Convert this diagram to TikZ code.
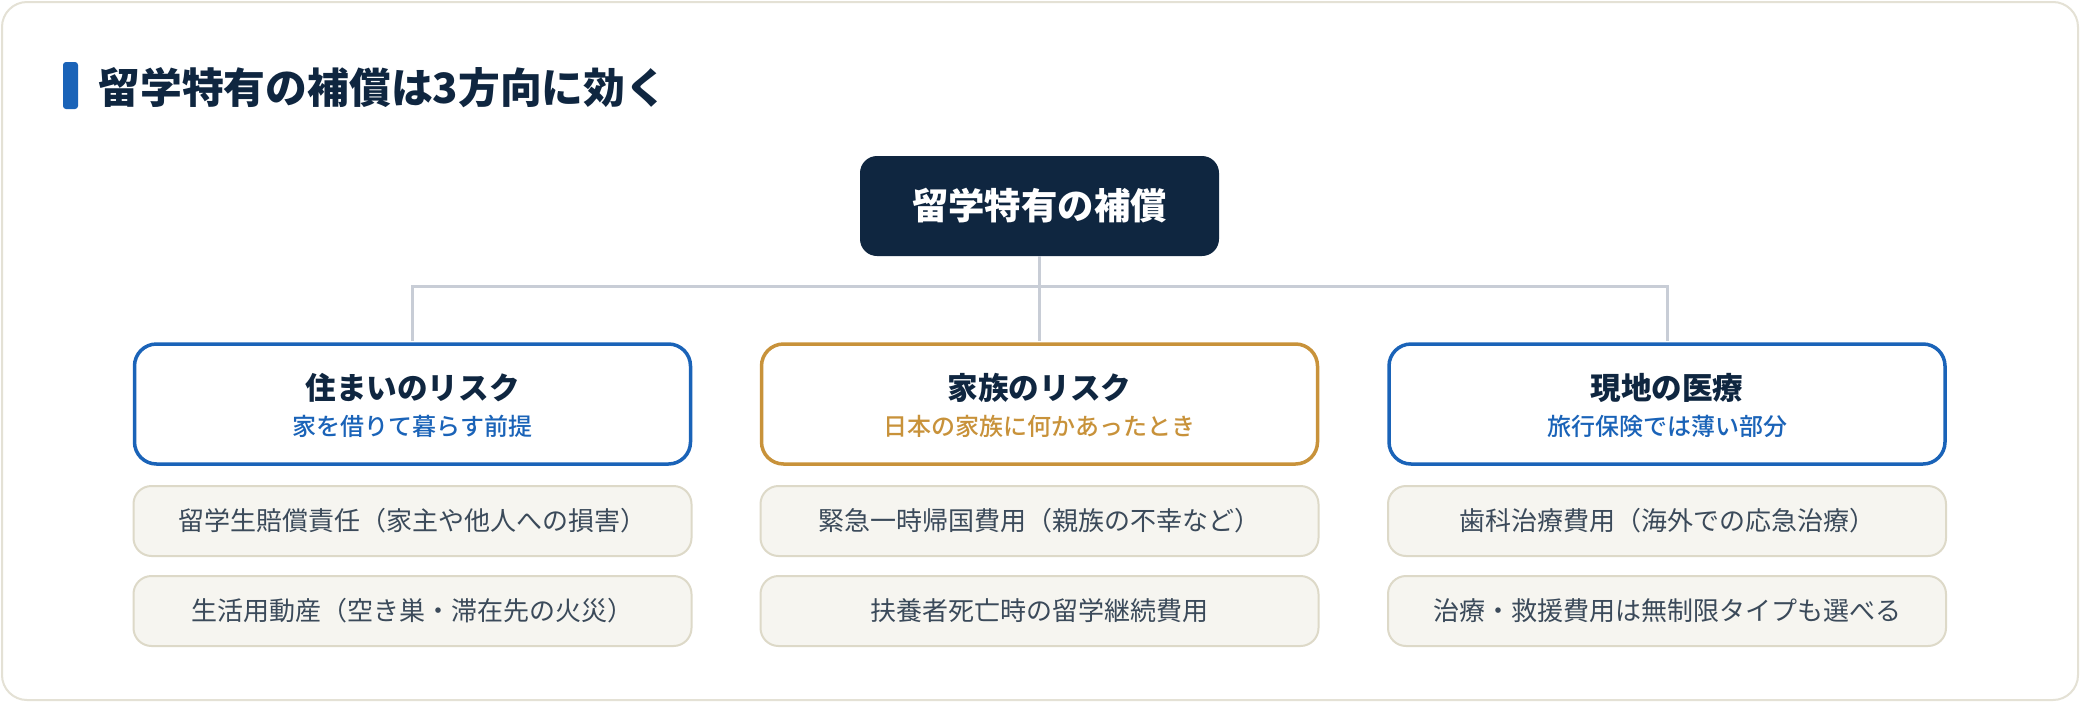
\documentclass[tikz,border=0pt]{standalone}
\usepackage{fontspec}
\setmainfont{Noto Sans CJK JP}
\newfontfamily\medfont{Noto Sans CJK JP Medium}
\usepackage{tikz}
\usetikzlibrary{positioning}
\definecolor{navy}{HTML}{0F2640}
\definecolor{riskblue}{HTML}{1A63B8}
\definecolor{riskgold}{HTML}{C8923A}
\definecolor{itemfill}{HTML}{F6F5F0}
\definecolor{itemline}{HTML}{DDD9C8}
\definecolor{itemtext}{HTML}{3B4A5A}
\definecolor{busline}{HTML}{C8CDD6}
\definecolor{frameline}{HTML}{E4E1D5}
\tikzset{
    rootbox/.style={
           rectangle,
           rounded corners=17pt,
           fill=navy,
           text=white,
           minimum width=359pt,
           minimum height=100pt,
           inner sep=0pt,
           font=\fontsize{36.4}{40}\selectfont\bfseries,
           },
    riskbox/.style={
           rectangle,
           rounded corners=22pt,
           draw=#1, line width=3.5pt,
           fill=white,
           text=#1,
           minimum width=556pt,
           minimum height=120pt,
           inner sep=0pt,
           align=center,
           font=\fontsize{24}{36.5}\selectfont\medfont,
           },
    itembox/.style={
           rectangle,
           rounded corners=18pt,
           draw=itemline, line width=2pt,
           fill=itemfill,
           text=itemtext,
           minimum width=558pt,
           minimum height=70pt,
           inner sep=0pt,
           font=\fontsize{26}{30}\selectfont,
           },
    bus/.style={draw=busline, line width=3pt},
}
\newcommand{\risktitle}[1]{{\fontsize{30.6}{36.5}\selectfont\rmfamily\bfseries\color{navy}\rule{0pt}{29pt}#1}}

\begin{document}
\begin{tikzpicture}[x=1pt,y=-1pt]
        % page and card
        \fill[white] (0,0) rectangle (2080,702);
        \draw[draw=frameline, line width=2pt, fill=white, rounded corners=25pt]
            (2,2) rectangle (2078,700);

        % heading with its bar
        \node[fill=riskblue, rounded corners=3pt,
            minimum width=15pt, minimum height=47pt,
            inner sep=0pt] (BAR) at (70.5,85.5) {};
        \node[inner sep=0pt,
            right=20pt of BAR,
            yshift=-2.5pt,
            text=navy,
            font=\fontsize{41.8}{48}\selectfont\bfseries] (HEADING)
        {留学特有の補償は3方向に効く};

        % ROOT
        \node[rootbox] (ROOT) at (1039.5,206) {留学特有の補償};

        % RISK FAMILY
        \node[riskbox=riskgold,
            below of=ROOT,
            node distance=198pt,
            anchor=center] (RK_FAMILY)
        {\risktitle{家族のリスク}\\日本の家族に何かあったとき};

        % RISK HOME
        \node[riskbox=riskblue,
            left of=RK_FAMILY,
            node distance=627pt,
            anchor=center] (RK_HOME)
        {\risktitle{住まいのリスク}\\家を借りて暮らす前提};

        % RISK MEDICAL
        \node[riskbox=riskblue,
            right of=RK_FAMILY,
            node distance=627.5pt,
            anchor=center] (RK_MED)
        {\risktitle{現地の医療}\\旅行保険では薄い部分};

        % items below each risk
        \node[itembox, below of=RK_HOME, node distance=117pt, anchor=center] (IT_HOME_A)
        {留学生賠償責任（家主や他人への損害）};
        \node[itembox, below of=IT_HOME_A, node distance=90pt, anchor=center] (IT_HOME_B)
        {生活用動産（空き巣・滞在先の火災）};
        \node[itembox, below of=RK_FAMILY, node distance=117pt, anchor=center] (IT_FAMILY_A)
        {緊急一時帰国費用（親族の不幸など）};
        \node[itembox, below of=IT_FAMILY_A, node distance=90pt, anchor=center] (IT_FAMILY_B)
        {扶養者死亡時の留学継続費用};
        \node[itembox, below of=RK_MED, node distance=117pt, anchor=center] (IT_MED_A)
        {歯科治療費用（海外での応急治療）};
        \node[itembox, below of=IT_MED_A, node distance=90pt, anchor=center] (IT_MED_B)
        {治療・救援費用は無制限タイプも選べる};

        % tree lines
        \coordinate (J_HOME) at (RK_HOME.north |- 0,286);
        \coordinate (J_MED) at (RK_MED.north |- 0,286);
        \draw[bus, shorten >=1.75pt] (ROOT.south) -- (RK_FAMILY.north);
        \draw[bus, shorten <=1.75pt, shorten >=1.75pt]
            (RK_HOME.north) -- (J_HOME) -- (J_MED) -- (RK_MED.north);

\end{tikzpicture}
\end{document}
